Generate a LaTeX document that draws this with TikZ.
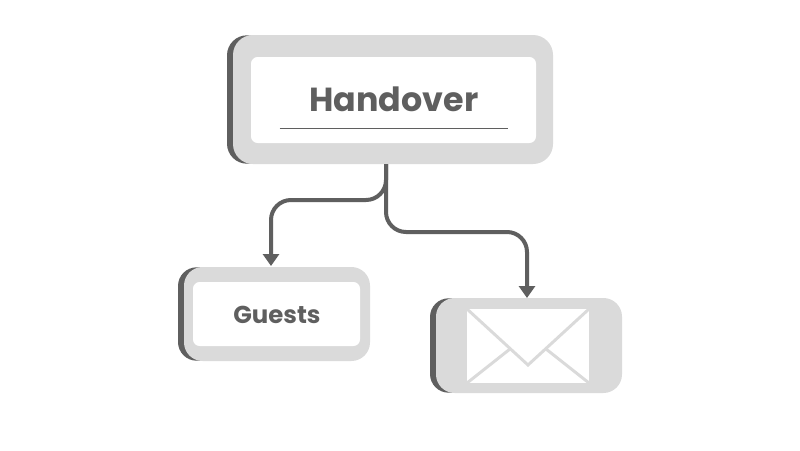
\documentclass[tikz,border=0pt]{standalone}
\usepackage{fontspec}
\setmainfont{Poppins}[BoldFont={Poppins Bold}]
\usetikzlibrary{arrows.meta,calc}
\definecolor{lightbox}{HTML}{DADADA}
\definecolor{darkgrey}{HTML}{5F5F5F}
\tikzset{
  x=0.75pt,y=-0.75pt,
  shadowbox/.style={fill=darkgrey,rounded corners=#1,inner sep=0pt,outer sep=0pt},
  framebox/.style={fill=lightbox,rounded corners=#1,inner sep=0pt,outer sep=0pt},
  innerbox/.style={fill=white,rounded corners=5pt,inner sep=0pt,outer sep=0pt},
  link/.style={draw=darkgrey,line width=3pt,rounded corners=15pt},
  linkarrow/.style={link,-{Triangle[length=9pt,width=12pt]}},
  fold/.style={draw=lightbox,line width=2.2pt},
  title/.style={text=darkgrey,font=\bfseries,inner sep=0pt}
}
% name, xmin, ymin, xmax, ymax, shadow xmin, radius
\newcommand{\boxnode}[7]{%
  \node[shadowbox=#7,minimum width=40*0.75pt,minimum height=(#5-#3-0.6)*0.75pt] (#1s) at ({#6+20},{(#3+#5)/2}) {};
  \node[framebox=#7,minimum width=(#4-#2)*0.75pt,minimum height=(#5-#3)*0.75pt] (#1) at ({(#2+#4)/2},{(#3+#5)/2}) {};
}
\begin{document}
\begin{tikzpicture}
\useasboundingbox (0,0) rectangle (800,450);
\fill[white] (0,0) rectangle (800,450);

\coordinate (trunk) at (386,164);
\coordinate (guestsin) at (271,266);
\coordinate (mailin) at (527,298);

\boxnode{top}{233}{35}{553}{164}{227}{15pt}
\node[innerbox,minimum width=213.75pt,minimum height=64.5pt] (topin) at (393.5,100) {};
\node[title,font=\bfseries\fontsize{25}{28}\selectfont] (handover) at (394,99) {Handover};
\coordinate (ruleL) at (279.5,128);
\coordinate (ruleR) at (507.5,128);
\draw[darkgrey,line width=0.75pt] (ruleL) -- (ruleR);

\boxnode{guests}{184}{267}{370}{361}{178}{14pt}
\node[innerbox,minimum width=125.25pt,minimum height=48pt] (guestsinner) at (276.5,314) {};
\node[title,font=\bfseries\fontsize{18.3}{20}\selectfont] (guestslabel) at (277,315) {Guests};

\boxnode{mail}{436}{298}{622}{393}{430}{14pt}
\node[fill=white,inner sep=0pt,outer sep=0pt,minimum width=91.5pt,minimum height=55.5pt] (env) at (528,346) {};
\draw[fold] (env.north west) -- (528,365) -- (env.north east);
\draw[fold] (env.south west) -- (510,349);
\draw[fold] (env.south east) -- (546,349);

\draw[linkarrow] (trunk) -- (386,200) -- (271,200) -- (guestsin);
\draw[linkarrow] (trunk) -- (386,232) -- (527,232) -- (mailin);
\end{tikzpicture}
\end{document}
